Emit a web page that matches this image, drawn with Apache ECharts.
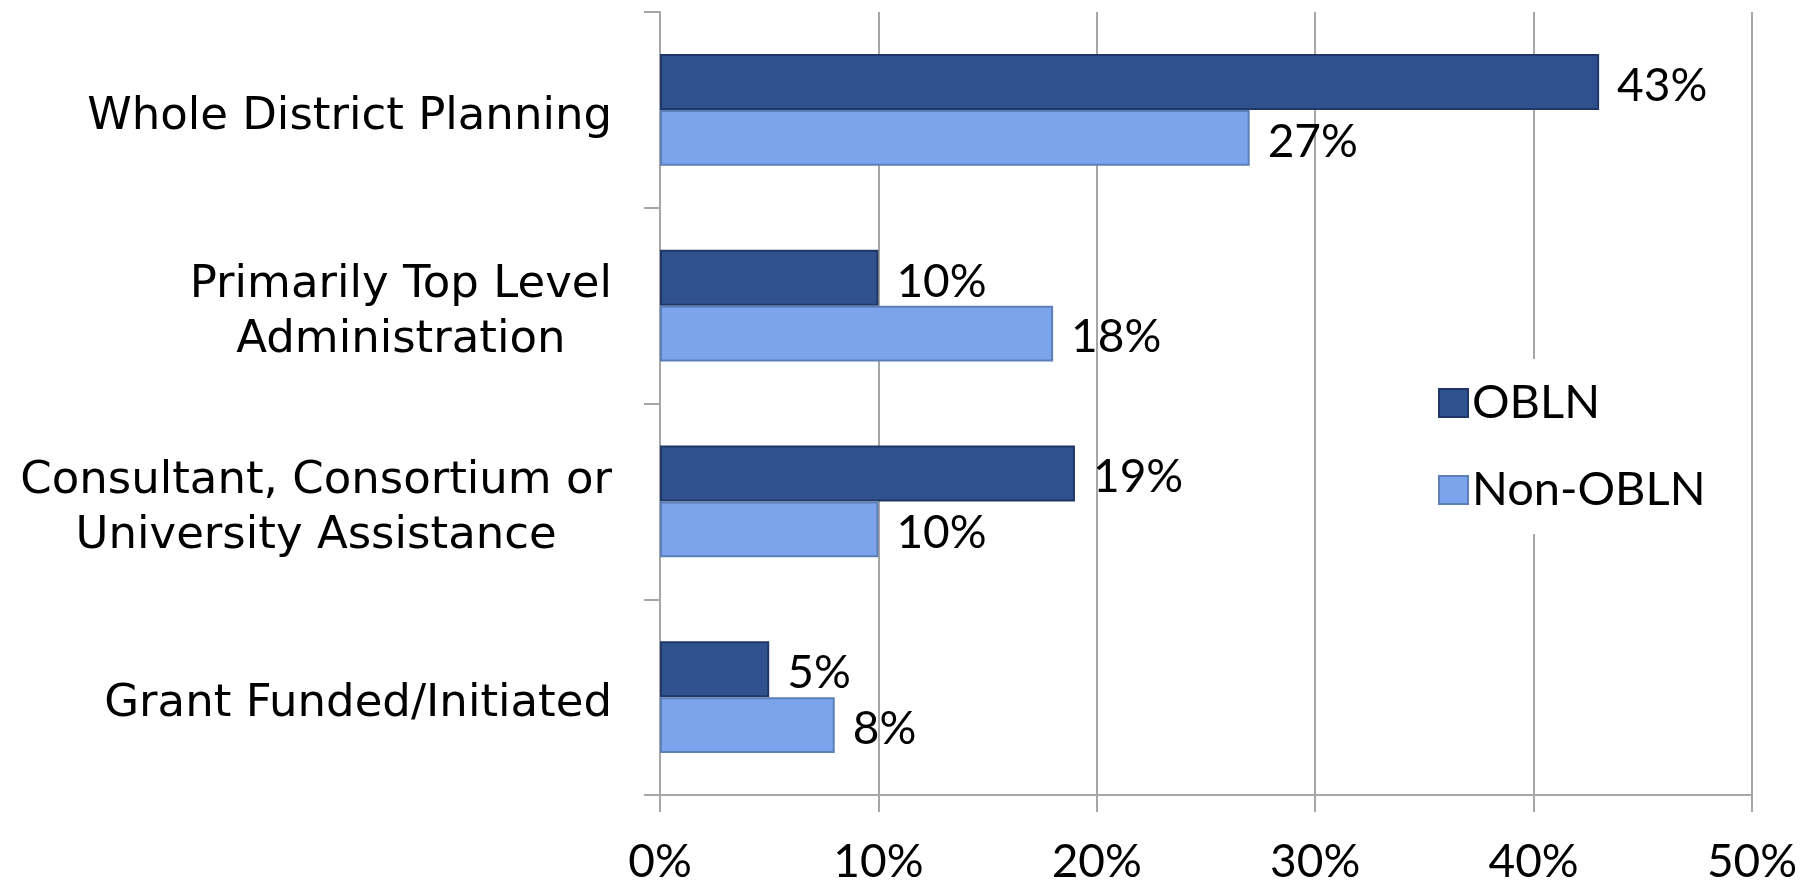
<!DOCTYPE html>
<html>
<head>
<meta charset="utf-8">
<style>
  html, body { margin: 0; padding: 0; background: #fff; }
  #chart { width: 1812px; height: 880px; }
</style>
<script src="https://cdn.jsdelivr.net/npm/echarts@6/dist/echarts.min.js"></script>
</head>
<body>
<div id="chart"></div>
<script>
// Planning approach categories, top to bottom
const categories = [
  'Whole District Planning',
  'Primarily Top Level\nAdministration',
  'Consultant, Consortium or\nUniversity Assistance',
  'Grant Funded/Initiated'
];
// Share of districts (%) per group
const oblnValues = [43, 10, 19, 5];
const nonOblnValues = [27, 18, 10, 8];
const seriesNames = ['OBLN', 'Non-OBLN'];
const xTicks = [0, 10, 20, 30, 40, 50];

const FONT = 'Lato';
const CAT_FONT = 'DejaVu Sans';
const GRID_GRAY = '#A6A6A6';

const chart = echarts.init(document.getElementById('chart'), null, { renderer: 'canvas' });

function barSeries(name, data, fill, border) {
  return {
    name: name,
    type: 'bar',
    data: data,
    barGap: '0%',
    barCategoryGap: '43%',
    itemStyle: { color: fill, borderColor: border, borderWidth: 2 },
    label: {
      show: true,
      position: 'right',
      distance: 18,
      offset: [0, 4],
      formatter: '{c}%',
      color: '#000',
      fontFamily: FONT,
      fontSize: 46
    }
  };
}

chart.setOption({
  animation: false,
  backgroundColor: '#fff',
  grid: { left: 660, right: 60, top: 12, bottom: 85, containLabel: false, outerBoundsMode: 'none' },
  legend: {
    orient: 'vertical',
    left: 1428,
    top: 359,
    padding: [13, 14, 13, 10],
    backgroundColor: '#fff',
    itemWidth: 29,
    itemHeight: 28,
    itemGap: 25,
    icon: 'rect',
    textStyle: { color: '#000', fontFamily: FONT, fontSize: 47, lineHeight: 55, padding: [7, 0, 0, -1] },
    data: seriesNames
  },
  xAxis: {
    type: 'value',
    min: xTicks[0],
    max: xTicks[xTicks.length - 1],
    interval: 10,
    axisLine: { show: true, lineStyle: { color: GRID_GRAY, width: 2 } },
    axisTick: { show: true, length: 17, lineStyle: { color: GRID_GRAY, width: 2 } },
    splitLine: { show: true, lineStyle: { color: GRID_GRAY, width: 2 } },
    axisLabel: {
      margin: 44,
      color: '#000',
      fontFamily: FONT,
      fontSize: 46,
      formatter: v => v + '%'
    }
  },
  yAxis: {
    type: 'category',
    inverse: true,
    data: categories,
    axisLine: { show: true, lineStyle: { color: GRID_GRAY, width: 2 } },
    axisTick: { show: true, length: 16, lineStyle: { color: GRID_GRAY, width: 2 } },
    axisLabel: {
      margin: 48,
      padding: [14, 0, 0, 0],
      color: '#000',
      fontFamily: CAT_FONT,
      fontSize: 45,
      lineHeight: 55,
      formatter: v => v.split('\n').map(s => '{c|' + s + '}').join('\n'),
      rich: { c: { align: 'center', fontFamily: CAT_FONT, fontSize: 45, lineHeight: 55, color: '#000' } }
    }
  },
  series: [
    barSeries(seriesNames[0], oblnValues, '#2F528F', '#1E3766'),
    barSeries(seriesNames[1], nonOblnValues, '#7BA4EC', '#5D7FB8')
  ]
});
</script>
</body>
</html>
